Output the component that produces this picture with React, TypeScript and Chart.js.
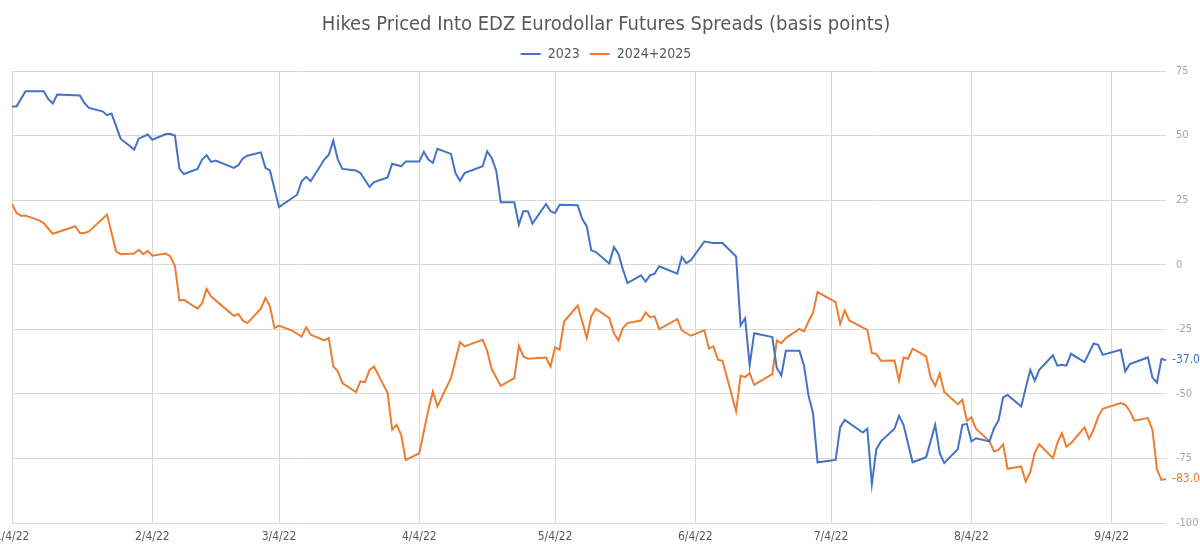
import { useEffect, useRef } from "react";
import { Chart, registerables } from "chart.js";

Chart.register(...registerables);

const TITLE = "Hikes Priced Into EDZ Eurodollar Futures Spreads (basis points)";
const SERIES_NAMES = ["2023", "2024+2025"];
const SERIES_COLORS = ["#4472C4", "#ED7D31"];

// x values: calendar days since 2022-01-04
const X_TICK_DAYS = [0, 31, 59, 90, 120, 151, 181, 212, 243];
const X_TICK_LABELS = ["1/4/22", "2/4/22", "3/4/22", "4/4/22", "5/4/22", "6/4/22", "7/4/22", "8/4/22", "9/4/22"];
const X_LAST_DAY = 255;
const Y_MIN = -100;
const Y_MAX = 75;
const Y_STEP = 25;

const DAYS_2023 = [
  0, 1, 3, 7, 8, 9, 10, 15, 16, 17, 20, 21, 22, 24, 27, 28, 30, 31, 34, 35, 36, 37, 38, 41, 42, 43, 44, 45, 49, 50,
  51, 52, 55, 56, 57, 59, 63, 64, 65, 66, 69, 70, 71, 72, 73, 76, 77, 79, 80, 83, 84, 86, 87, 90, 91, 92, 93, 94, 97,
  98, 99, 100, 104, 105, 106, 107, 108, 111, 112, 113, 114, 115, 118, 119, 120, 121, 125, 126, 127, 128, 129, 132, 133,
  134, 135, 136, 139, 140, 141, 142, 143, 147, 148, 149, 150, 153, 155, 157, 160, 161, 162, 163, 164, 168, 169, 170,
  171, 174, 175, 176, 177, 178, 182, 183, 184, 188, 189, 190, 191, 192, 195, 196, 197, 199, 202, 204, 205, 206, 209,
  210, 211, 212, 213, 216, 217, 218, 219, 220, 223, 225, 226, 227, 230, 231, 232, 233, 234, 237, 239, 240, 241, 245,
  246, 247, 251, 252, 253, 254, 255,
];
const VALUES_2023 = [
  61.3, 61.3, 67.2, 67.2, 64.2, 62.4, 65.9, 65.5, 62.6, 60.7, 59.4, 57.9, 58.5, 48.8, 44.6, 48.8, 50.4, 48.4, 50.6,
  50.6, 50.0, 37.1, 35.1, 37.1, 40.7, 42.4, 39.8, 40.3, 37.5, 38.5, 41.1, 42.2, 43.5, 37.5, 36.5, 22.3, 27.1, 32.3,
  34.0, 32.3, 40.7, 42.6, 48.0, 40.7, 37.1, 36.5, 35.5, 30.1, 32.0, 33.8, 39.1, 38.1, 40.0, 40.0, 43.7, 40.7, 39.4,
  44.9, 42.9, 35.5, 32.5, 35.5, 38.1, 43.9, 41.3, 36.4, 24.2, 24.2, 15.5, 20.7, 20.7, 15.9, 23.5, 20.7, 20.0, 23.2,
  23.0, 17.7, 14.9, 5.6, 4.9, 0.5, 6.8, 4.3, -1.9, -7.1, -4.1, -6.5, -4.1, -3.5, -0.6, -3.5, 3.0, 0.6, 1.7, 9.0, 8.4,
  8.4, 3.2, -23.5, -20.7, -39.0, -26.5, -28.0, -40.0, -42.9, -33.3, -33.3, -39.0, -50.6, -57.5, -76.5, -75.6, -63.0,
  -60.1, -65.0, -63.5, -85.0, -71.4, -68.4, -63.5, -58.5, -62.0, -76.5, -74.5, -62.0, -73.0, -76.8, -71.4, -62.0,
  -61.6, -68.4, -67.2, -68.4, -63.3, -60.3, -51.4, -50.4, -54.9, -40.7, -44.9, -40.7, -35.1, -39.1, -38.7, -39.1,
  -34.5, -37.7, -30.5, -31.0, -34.9, -32.9, -41.3, -38.5, -35.9, -43.7, -45.6, -36.4, -37.0,
];

const DAYS_2024_2025 = [
  0, 1, 2, 3, 6, 7, 9, 14, 15, 16, 17, 21, 23, 24, 27, 28, 29, 30, 31, 34, 35, 36, 37, 38, 41, 42, 43, 44, 49, 50, 51,
  52, 55, 56, 57, 58, 59, 62, 64, 65, 66, 69, 70, 71, 72, 73, 76, 77, 78, 79, 80, 83, 84, 85, 86, 87, 90, 92, 93, 94,
  97, 99, 100, 104, 105, 106, 108, 111, 112, 113, 114, 118, 119, 120, 121, 122, 125, 126, 127, 128, 129, 132, 133,
  134, 135, 136, 139, 140, 141, 142, 143, 147, 148, 150, 153, 154, 155, 156, 157, 160, 161, 162, 163, 164, 168, 169,
  170, 171, 174, 175, 176, 177, 178, 182, 183, 184, 185, 189, 190, 191, 192, 195, 196, 197, 198, 199, 202, 203, 204,
  205, 206, 209, 210, 211, 212, 213, 216, 217, 218, 219, 220, 223, 224, 225, 226, 227, 230, 231, 232, 233, 234, 237,
  238, 239, 240, 241, 245, 246, 247, 248, 251, 252, 253, 254, 255,
];
const VALUES_2024_2025 = [
  23.5, 20.0, 19.0, 19.0, 17.2, 16.1, 12.0, 14.9, 12.3, 12.3, 12.9, 19.4, 5.2, 4.1, 4.3, 5.8, 4.1, 5.4, 3.5, 4.3, 3.2,
  -0.4, -13.9, -13.6, -17.0, -14.9, -9.4, -12.3, -19.8, -19.1, -21.6, -22.6, -17.0, -12.9, -16.1, -24.5, -23.6, -25.6,
  -27.8, -24.2, -27.1, -29.3, -28.4, -39.4, -41.3, -45.8, -49.3, -45.2, -45.5, -40.7, -39.4, -49.7, -63.9, -62.0,
  -65.9, -75.6, -73.0, -56.2, -49.1, -54.9, -43.9, -30.0, -31.6, -29.1, -33.3, -40.4, -46.9, -43.9, -31.4, -35.5,
  -36.4, -35.9, -39.4, -32.0, -32.9, -22.0, -15.8, -22.0, -28.4, -20.0, -17.0, -20.7, -26.5, -29.3, -24.5, -22.6,
  -21.6, -18.5, -20.3, -20.0, -24.9, -21.1, -25.4, -27.5, -25.4, -32.5, -31.6, -36.8, -37.2, -56.8, -43.0, -43.5,
  -42.0, -46.5, -42.4, -29.3, -30.4, -28.4, -24.9, -25.8, -22.0, -18.7, -10.6, -14.5, -22.9, -17.7, -21.6, -25.2,
  -34.2, -34.5, -37.2, -37.1, -44.9, -35.9, -36.4, -32.5, -35.5, -43.7, -46.9, -42.2, -49.3, -54.0, -52.3, -60.4,
  -59.1, -63.5, -68.4, -72.3, -71.7, -69.5, -79.0, -78.1, -83.9, -80.3, -72.7, -69.5, -74.9, -69.1, -65.2, -70.4,
  -69.1, -63.0, -67.4, -63.9, -58.8, -55.8, -53.6, -54.2, -56.6, -60.4, -59.4, -63.9, -79.2, -83.3, -83.0,
];

const FONT = "'Liberation Sans Narrow', 'DejaVu Sans Condensed', Roboto, sans-serif";

const endLabelsPlugin = {
  id: "endLabels",
  afterDraw(chart: any) {
    const { ctx, chartArea } = chart;
    ctx.save();
    ctx.font = `12px ${FONT}`;
    ctx.textAlign = "left";
    ctx.textBaseline = "middle";
    chart.data.datasets.forEach((ds: any, i: number) => {
      const meta = chart.getDatasetMeta(i);
      const last = meta.data[meta.data.length - 1];
      const v = ds.data[ds.data.length - 1].y;
      ctx.fillStyle = ds.borderColor;
      ctx.fillText(v.toFixed(1), chartArea.right + 6, last.y);
    });
    ctx.restore();
  },
};

export default function App() {
  const canvasRef = useRef<HTMLCanvasElement | null>(null);

  useEffect(() => {
    document.body.style.margin = "0";
    const canvas = canvasRef.current;
    if (!canvas) return;
    const makeData = (days: number[], vals: number[]) => days.map((d, i) => ({ x: d, y: vals[i] }));
    const chart = new Chart(canvas, {
      type: "line",
      data: {
        datasets: [
          {
            label: SERIES_NAMES[0],
            data: makeData(DAYS_2023, VALUES_2023),
            borderColor: SERIES_COLORS[0],
            backgroundColor: SERIES_COLORS[0],
            borderWidth: 2,
            pointRadius: 0,
            pointStyle: "line",
            tension: 0,
          },
          {
            label: SERIES_NAMES[1],
            data: makeData(DAYS_2024_2025, VALUES_2024_2025),
            borderColor: SERIES_COLORS[1],
            backgroundColor: SERIES_COLORS[1],
            borderWidth: 2,
            pointRadius: 0,
            pointStyle: "line",
            tension: 0,
          },
        ],
      },
      options: {
        animation: false,
        responsive: false,
        maintainAspectRatio: false,
        layout: { padding: { left: 12, right: 0, top: 0, bottom: 0 } },
        plugins: {
          title: {
            display: true,
            text: TITLE,
            color: "#595959",
            font: { family: FONT, size: 20, weight: "normal" },
            padding: { top: 3, bottom: 0 },
          },
          legend: {
            display: true,
            labels: {
              usePointStyle: true,
              pointStyleWidth: 20,
              color: "#595959",
              font: { family: FONT, size: 14 },
              padding: 10,
            },
          },
          tooltip: { enabled: false },
        },
        scales: {
          x: {
            type: "linear",
            min: 0,
            max: X_LAST_DAY,
            afterBuildTicks: (scale: any) => {
              scale.ticks = X_TICK_DAYS.map((v) => ({ value: v }));
            },
            afterFit: (scale: any) => {
              scale.paddingLeft = 0;
              scale.paddingRight = 0;
              scale.height = 25;
            },
            ticks: {
              autoSkip: false,
              maxRotation: 0,
              color: "#595959",
              font: { family: FONT, size: 12 },
              padding: 7,
              callback: (v: any) => {
                const idx = X_TICK_DAYS.indexOf(Number(v));
                return idx >= 0 ? X_TICK_LABELS[idx] : "";
              },
            },
            grid: { color: "#d9d9d9", drawTicks: false, lineWidth: 1 },
            border: { display: false },
          },
          y: {
            position: "right",
            min: Y_MIN,
            max: Y_MAX,
            afterFit: (scale: any) => {
              scale.width = 34;
              scale.paddingTop = 71;
            },
            ticks: {
              stepSize: Y_STEP,
              color: "#a6a6a6",
              font: { family: FONT, size: 11 },
              padding: 10,
            },
            grid: { color: "#d9d9d9", drawTicks: false, lineWidth: 1 },
            border: { display: false },
          },
        },
      },
      plugins: [endLabelsPlugin],
    });
    return () => chart.destroy();
  }, []);

  return (
    <div style={{ width: 1200, height: 548 }}>
      <canvas ref={canvasRef} width={1200} height={548} style={{ display: "block" }} />
    </div>
  );
}
